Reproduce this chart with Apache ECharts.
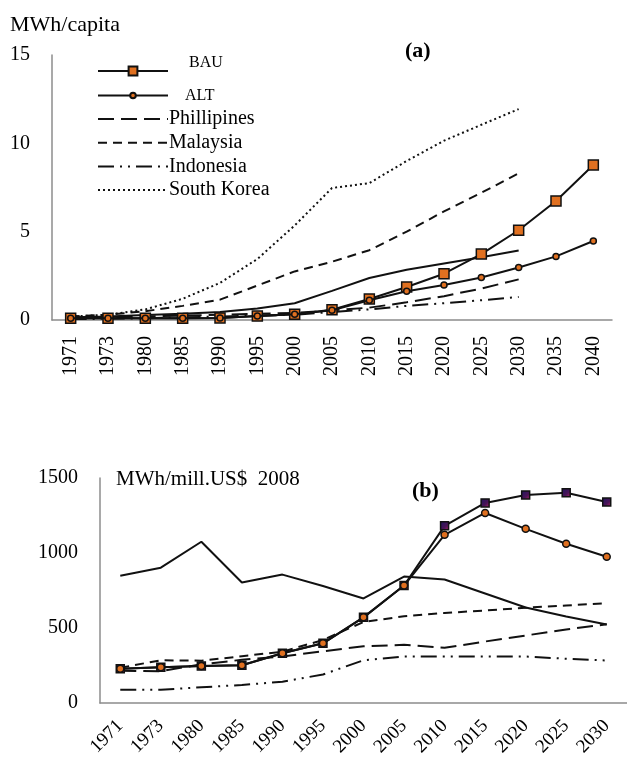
<!DOCTYPE html>
<html>
<head>
<meta charset="utf-8">
<script src="https://cdn.jsdelivr.net/npm/echarts@6/dist/echarts.min.js"></script>
<style>
  html, body { margin: 0; padding: 0; background: #fff; }
  #chart { width: 627px; height: 770px; }
</style>
</head>
<body>
<div id="chart"></div>
<script>
// (a) electricity use per capita
const yearsA = ['1971','1973','1980','1985','1990','1995','2000','2005','2010','2015','2020','2025','2030','2035','2040'];
const bauA = [0.1, 0.1, 0.1, 0.1, 0.12, 0.22, 0.33, 0.58, 1.19, 1.87, 2.62, 3.73, 5.08, 6.74, 8.77];
const altA = [0.1, 0.1, 0.1, 0.1, 0.12, 0.22, 0.33, 0.55, 1.12, 1.63, 1.98, 2.41, 2.97, 3.6, 4.47];
const thaiA = [0.15, 0.2, 0.28, 0.35, 0.45, 0.65, 0.95, 1.65, 2.38, 2.85, 3.2, 3.55, 3.93];
const philA = [0.1, 0.15, 0.2, 0.25, 0.3, 0.35, 0.4, 0.55, 0.7, 1.0, 1.35, 1.78, 2.3];
const malA = [0.2, 0.3, 0.5, 0.8, 1.15, 1.95, 2.75, 3.3, 3.95, 5.0, 6.15, 7.2, 8.3];
const indA = [0.05, 0.07, 0.1, 0.15, 0.2, 0.25, 0.3, 0.45, 0.6, 0.8, 0.95, 1.12, 1.3];
const korA = [0.2, 0.3, 0.6, 1.2, 2.1, 3.45, 5.35, 7.47, 7.75, 9.0, 10.15, 11.05, 11.94];
const ticksA = { min: 0, max: 15, interval: 5 };

// (b) electricity intensity
const yearsB = ['1971','1973','1980','1985','1990','1995','2000','2005','2010','2015','2020','2025','2030'];
const bauB = [228, 239, 246, 252, 332, 398, 571, 783, 1181, 1334, 1387, 1401, 1340];
const altB = [228, 239, 246, 252, 332, 398, 571, 783, 1121, 1267, 1161, 1062, 975];
const thaiB = [849, 902, 1075, 803, 856, 780, 697, 843, 823, 730, 637, 577, 524];
const philB = [215, 212, 258, 288, 310, 345, 378, 388, 368, 410, 450, 490, 525];
const malB = [235, 285, 282, 312, 342, 420, 540, 578, 600, 617, 635, 650, 665];
const indB = [88, 88, 105, 120, 142, 190, 285, 310, 310, 310, 310, 295, 283];
const ticksB = { min: 0, max: 1500, interval: 500 };

const legendLines = ['Phillipines', 'Malaysia', 'Indonesia', 'South Korea'];

const serif = 'Liberation Serif';
const ink = '#111';
const axisGray = '#8c8c8c';

const dashLong = [16, 7];
const dashShort = [9, 6];
const dashDotDot = [16, 6, 2, 6, 2, 6];
const dotted = [2, 3];

function plain(name, data, dash, xi) {
  return {
    name, type: 'line', data, xAxisIndex: xi, yAxisIndex: xi,
    symbol: 'none', silent: true,
    lineStyle: { color: ink, width: 2, type: dash },
    itemStyle: { color: ink }
  };
}

function marked(name, data, symbol, size, fill, xi, z) {
  return {
    name, type: 'line', data, xAxisIndex: xi, yAxisIndex: xi, z,
    symbol, symbolSize: size, showSymbol: true,
    lineStyle: { color: ink, width: 2, type: 'solid' },
    itemStyle: { color: fill, borderColor: ink, borderWidth: 1.5 }
  };
}

const purpleFill = new echarts.graphic.LinearGradient(0, 0, 1, 1, [
  { offset: 0, color: '#1c1660' },
  { offset: 0.6, color: '#4a1457' },
  { offset: 1, color: '#c4226a' }
]);
const orange = '#e07020';

const axisText = { color: '#000', fontFamily: serif };
const plainNumber = v => String(v);

const chart = echarts.init(document.getElementById('chart'), null, { renderer: 'canvas' });
chart.setOption({
  animation: false,
  backgroundColor: '#fff',
  textStyle: { fontFamily: serif },
  title: [
    { text: 'MWh/capita', left: 5, top: 9, textStyle: { fontFamily: serif, fontSize: 22, fontWeight: 'normal', color: '#000' } },
    { text: '(a)', left: 400, top: 35, textStyle: { fontFamily: serif, fontSize: 22, fontWeight: 'bold', color: '#000' } },
    { text: 'BAU', left: 184, top: 50, textStyle: { fontFamily: serif, fontSize: 16, fontWeight: 'normal', color: '#000' } },
    { text: 'MWh/mill.US$  2008', left: 111, top: 464, textStyle: { fontFamily: serif, fontSize: 21, fontWeight: 'normal', color: '#000' } },
    { text: '(b)', left: 407, top: 475, textStyle: { fontFamily: serif, fontSize: 22, fontWeight: 'bold', color: '#000' } }
  ],
  legend: [
    {
      left: 92, top: 60.5, itemWidth: 70, itemHeight: 11, selectedMode: false,
      formatter: () => '',
      data: ['BAU']
    },
    {
      left: 92, top: 82.5, itemWidth: 70, itemHeight: 7, selectedMode: false,
      textStyle: { fontFamily: serif, fontSize: 16, color: '#000', padding: [0, 0, 0, 12] },
      data: ['ALT']
    },
    {
      orient: 'vertical', left: 92, top: 104,
      itemWidth: 70, itemHeight: 11, itemGap: 3.7,
      selectedMode: false,
      itemStyle: { opacity: 0 },
      textStyle: { fontFamily: serif, fontSize: 20, color: '#000', lineHeight: 20, padding: [0, 0, 0, -4] },
      data: legendLines
    }
  ],
  grid: [
    { left: 52, top: 55, width: 560, height: 265, containLabel: false },
    { left: 100, top: 478, width: 527, height: 225, containLabel: false }
  ],
  xAxis: [
    {
      gridIndex: 0, type: 'category', data: yearsA, boundaryGap: true,
      axisLine: { lineStyle: { color: axisGray, width: 1.5 } },
      axisTick: { show: false },
      axisLabel: { ...axisText, fontSize: 20, rotate: 90, margin: 16, interval: 0 }
    },
    {
      gridIndex: 1, type: 'category', data: yearsB, boundaryGap: true,
      axisLine: { lineStyle: { color: axisGray, width: 1.5 } },
      axisTick: { show: false },
      axisLabel: { ...axisText, fontSize: 19, rotate: 45, margin: 20, interval: 0 }
    }
  ],
  yAxis: [
    {
      gridIndex: 0, type: 'value', ...ticksA,
      axisLine: { show: true, lineStyle: { color: axisGray, width: 1.5 } },
      axisTick: { show: false }, splitLine: { show: false },
      axisLabel: { ...axisText, fontSize: 20, margin: 22, formatter: plainNumber }
    },
    {
      gridIndex: 1, type: 'value', ...ticksB,
      axisLine: { show: true, lineStyle: { color: axisGray, width: 1.5 } },
      axisTick: { show: false }, splitLine: { show: false },
      axisLabel: { ...axisText, fontSize: 20, margin: 22, formatter: plainNumber }
    }
  ],
  series: [
    // (a)
    marked('BAU', bauA, 'rect', 10, orange, 0, 5),
    marked('ALT', altA, 'circle', 6, orange, 0, 6),
    plain('Phillipines', philA, dashLong, 0),
    plain('Malaysia', malA, dashShort, 0),
    plain('Indonesia', indA, dashDotDot, 0),
    plain('South Korea', korA, dotted, 0),
    plain('Thailand', thaiA, 'solid', 0),
    // (b)
    marked('BAU', bauB, 'rect', 8, purpleFill, 1, 5),
    marked('ALT', altB, 'circle', 7, orange, 1, 6),
    plain('Phillipines', philB, dashLong, 1),
    plain('Malaysia', malB, dashShort, 1),
    plain('Indonesia', indB, dashDotDot, 1),
    plain('Thailand', thaiB, 'solid', 1)
  ]
});
</script>
</body>
</html>
